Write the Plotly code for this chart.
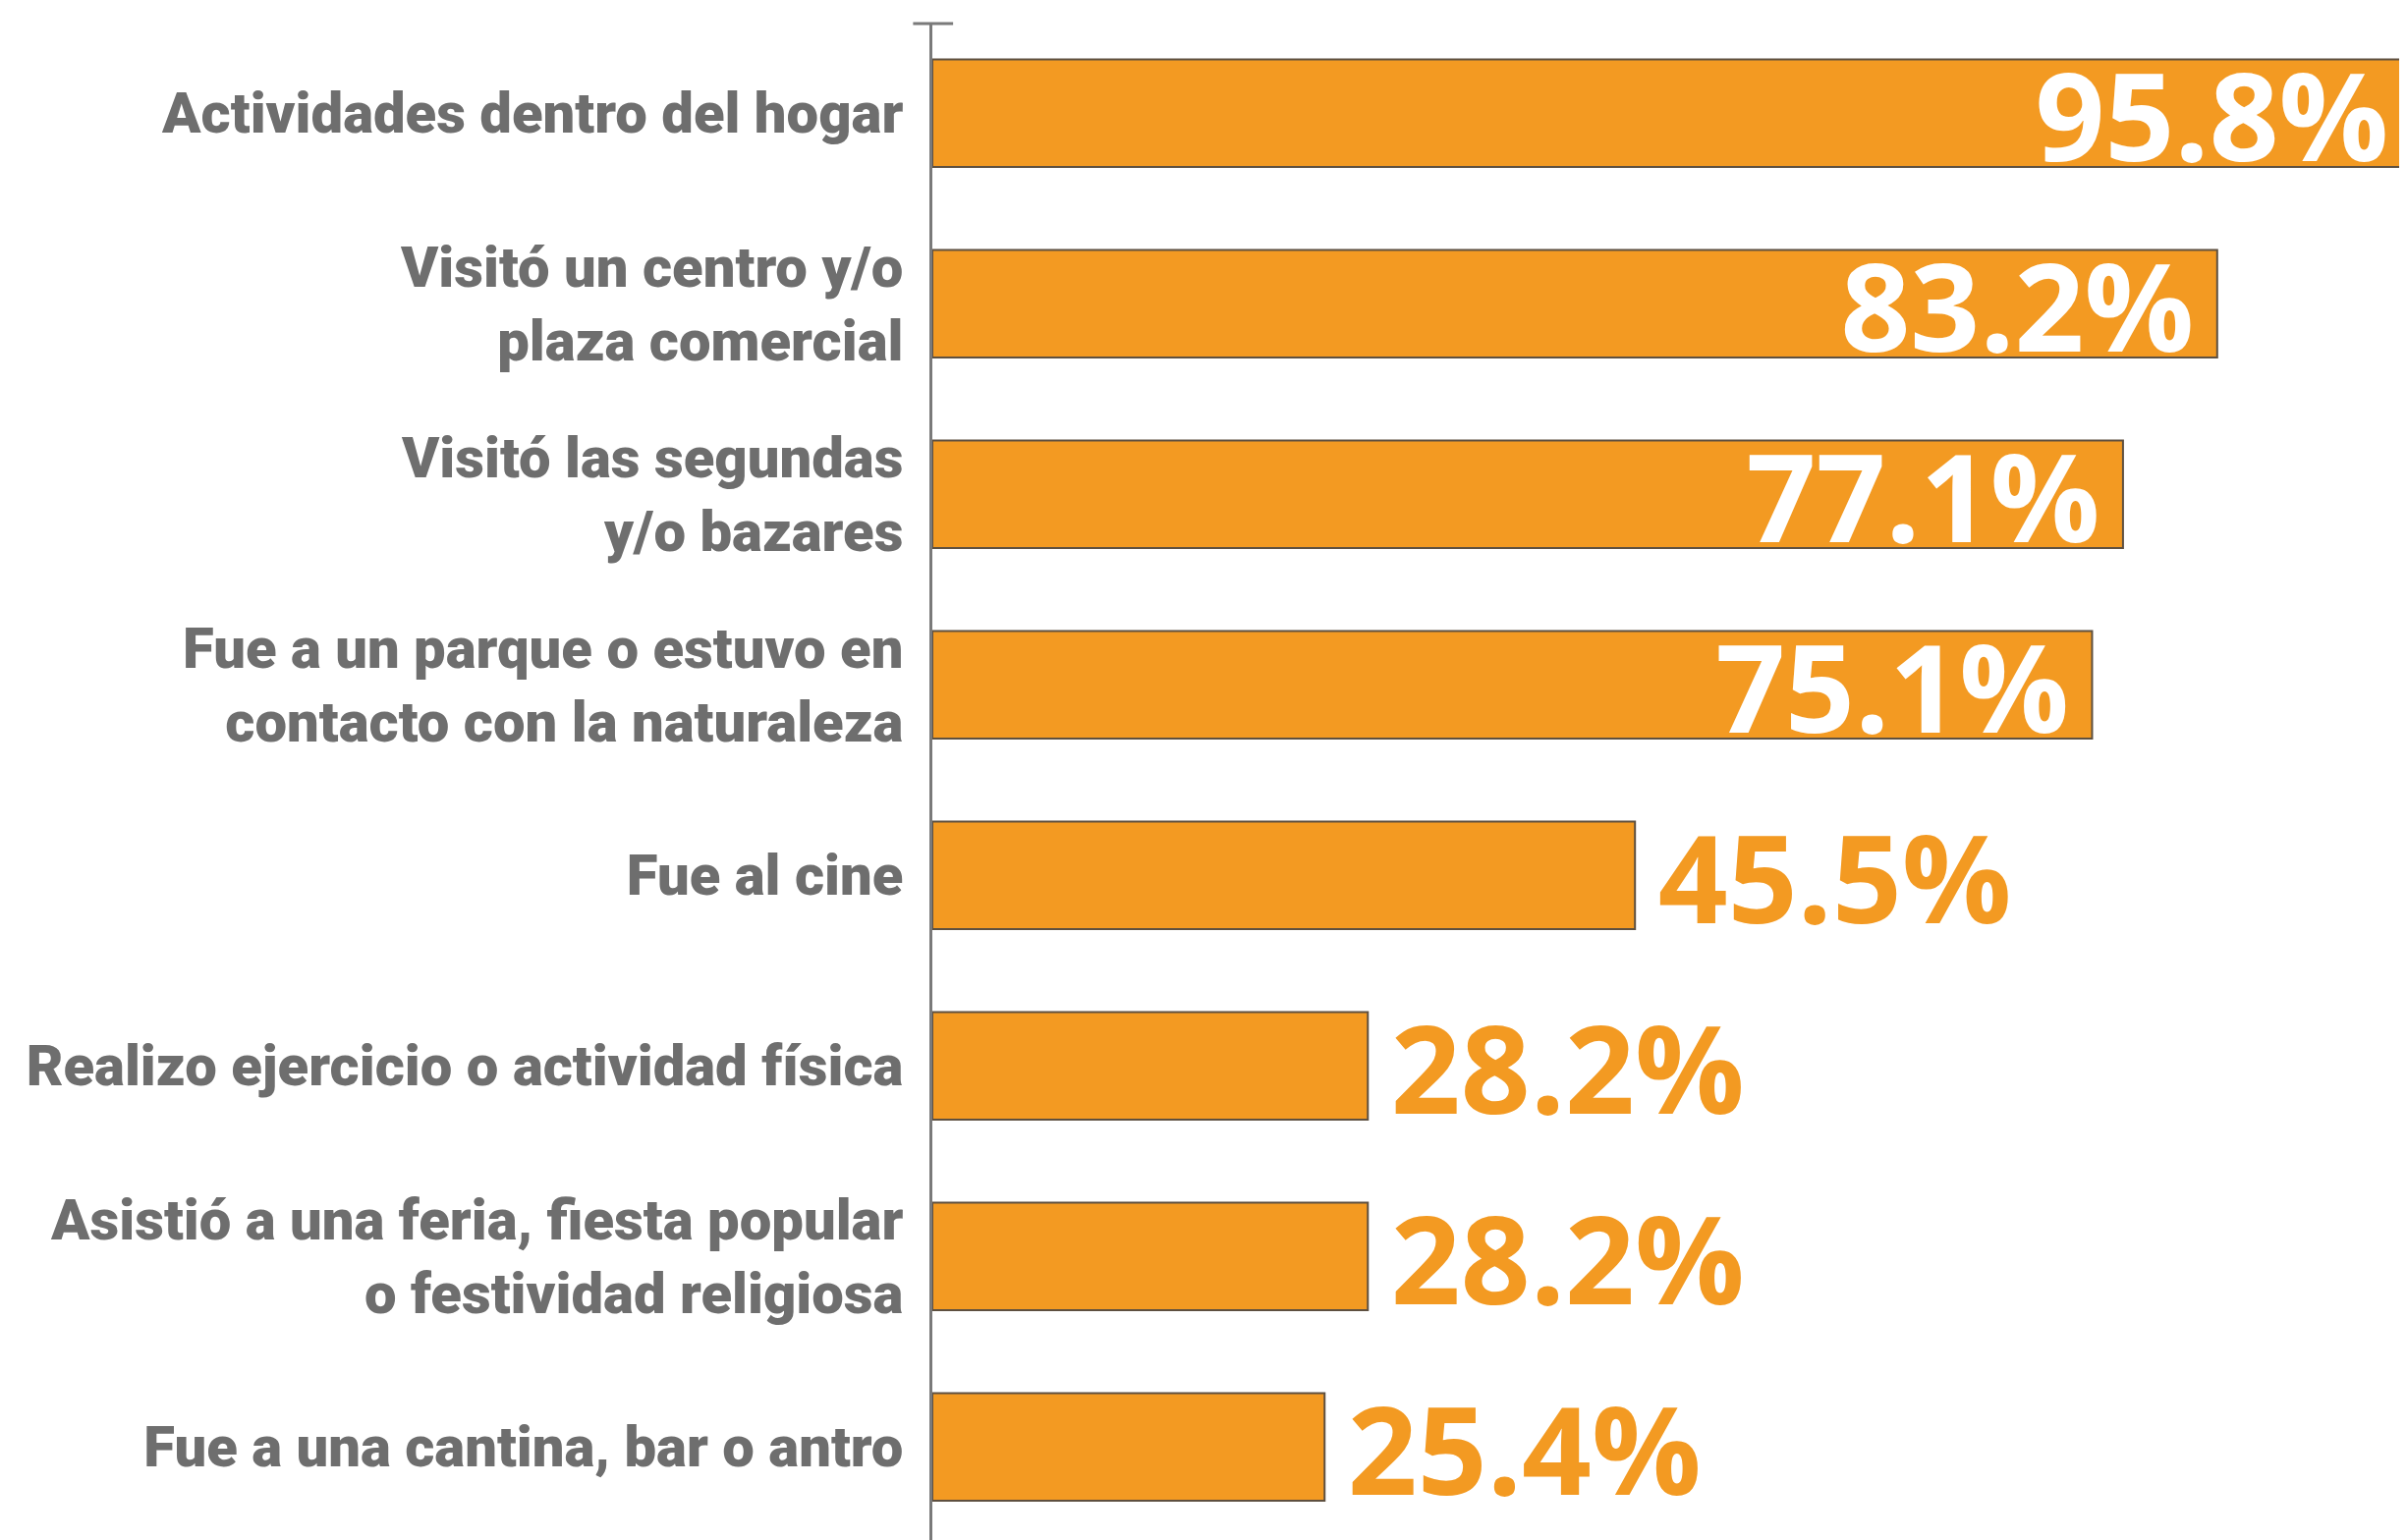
import plotly.graph_objects as go

categories = [
    "Actividades dentro del hogar",
    "Visitó un centro y/o<br>plaza comercial",
    "Visitó las segundas<br>y/o bazares",
    "Fue a un parque o estuvo en<br>contacto con la naturaleza",
    "Fue al cine",
    "Realizo ejercicio o actividad física",
    "Asistió a una feria, fiesta popular<br>o festividad religiosa",
    "Fue a una cantina, bar o antro",
]
values = [95.8, 83.2, 77.1, 75.1, 45.5, 28.2, 28.2, 25.4]
value_labels = ["95.8%", "83.2%", "77.1%", "75.1%", "45.5%", "28.2%", "28.2%", "25.4%"]
label_positions = ["inside", "inside", "inside", "inside", "outside", "outside", "outside", "outside"]

ORANGE = "#F39A22"
GRAY_TEXT = "#6e6e6e"
AXIS_GRAY = "#7a7a7a"

fig = go.Figure(
    go.Bar(
        x=values,
        y=categories,
        orientation="h",
        marker=dict(color=ORANGE, line=dict(color="#5e5040", width=2)),
        text=[("\u2009" + t) if p == "outside" else (t + "\u2009") for t, p in zip(value_labels, label_positions)],
        textposition=label_positions,
        insidetextanchor="end",
        constraintext="none",
        insidetextfont=dict(color="white", size=124, family="Open Sans", weight=700),
        outsidetextfont=dict(color=ORANGE, size=124, family="Open Sans", weight=700),
        cliponaxis=False,
        hoverinfo="skip",
    )
)

fig.update_layout(
    width=2450,
    height=1568,
    margin=dict(l=941, r=0, t=16, b=0),
    paper_bgcolor="white",
    plot_bgcolor="white",
    bargap=0.435,
    showlegend=False,
    xaxis=dict(range=[0, 96.0], visible=False, showgrid=False, zeroline=False),
    yaxis=dict(
        categoryorder="array",
        categoryarray=categories,
        range=[7.53, -0.47],
        showline=True,
        linecolor=AXIS_GRAY,
        linewidth=3,
        ticks="",
        showgrid=False,
        zeroline=False,
        ticklabelstandoff=15,
        tickfont=dict(family="Roboto", size=58, color=GRAY_TEXT, weight=900),
    ),
    shapes=[
        dict(type="line", xref="paper", yref="paper", x0=-0.013, x1=0.014, y0=1, y1=1,
             line=dict(color=AXIS_GRAY, width=3)),
    ],
)

fig.write_html("out.html")
